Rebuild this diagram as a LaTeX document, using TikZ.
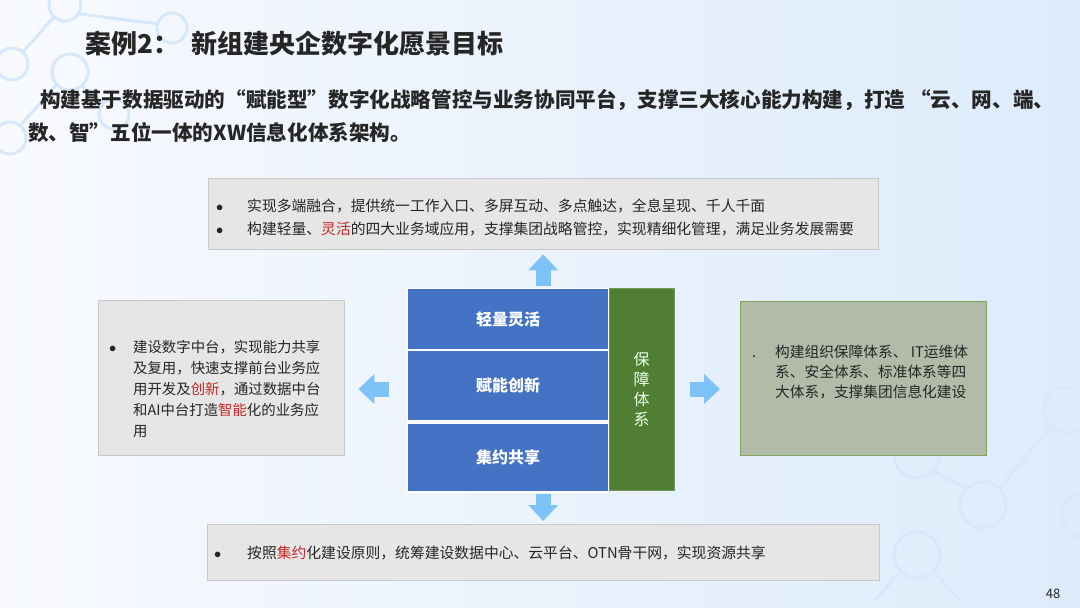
\documentclass[tikz,border=0pt]{standalone}
\usepackage{fontspec}
\setmainfont{Noto Sans CJK SC}
\usetikzlibrary{arrows.meta,positioning}

\definecolor{bgleft}{RGB}{248,250,254}
\definecolor{bgright}{RGB}{221,235,251}
\definecolor{deco}{RGB}{216,232,251}
\definecolor{boxgray}{RGB}{230,230,230}
\definecolor{boxline}{RGB}{200,200,200}
\definecolor{blockblue}{RGB}{68,114,196}
\definecolor{guardgreen}{RGB}{80,126,50}
\definecolor{sagefill}{RGB}{177,187,167}
\definecolor{sageline}{RGB}{125,165,94}
\definecolor{arrowblue}{RGB}{126,195,247}
\definecolor{hotred}{RGB}{200,40,40}
\definecolor{ink}{RGB}{38,38,38}

\newcommand{\hot}[1]{\textcolor{hotred}{#1}}
\newcommand{\dotmark}{$\bullet$}

\begin{document}
\begin{tikzpicture}[x=1pt,y=-1pt,
  graybox/.style={draw=boxline,fill=boxgray,inner sep=0pt,anchor=north west},
  sagebox/.style={draw=sageline,fill=sagefill,inner sep=0pt,anchor=north west},
  blk/.style={draw=white,line width=1.2pt,fill=blockblue,text=white,
              font=\fontsize{16}{18}\selectfont\bfseries,minimum width=201pt,
              inner sep=0pt},
  boxtxt/.style={inner sep=0pt,anchor=west,align=left,text=ink},
  fatarr/.style={draw=arrowblue,line width=15pt,
                 -{Triangle[length=16pt,width=29pt]}}]
  % page and background marks
  \shade[left color=bgleft,right color=bgright] (0,0) rectangle (1080,608);
  \useasboundingbox (0,0) rectangle (1080,608);
  \begin{scope}[draw=deco,line width=3pt]
    \draw (65,5) circle (16) (12,64) circle (16) (70,72) circle (18)
          (172,28) circle (15) (10,138) circle (16) (114,114) circle (15);
    \draw (54,17) -- (23,52) (80,14) -- (158,24) (82,86) -- (103,103)
          (57,84) -- (20,126);
    \draw (1067,410) circle (23) (917,455) circle (23) (983,505) circle (23)
          (917,555) circle (23) (1085,515) circle (23);
    \draw (933,471) -- (967,489) (999,489) -- (1051,426) (933,571) -- (960,600)
          (901,571) -- (875,600);
  \end{scope}

  % heading
  \node[anchor=west,inner sep=0pt,font=\fontsize{26}{30}\selectfont\bfseries,text=ink]
    (title) at (85,44) {案例2：\hspace{12pt}新组建央企数字化愿景目标};
  \node[anchor=west,inner sep=0pt,font=\fontsize{20.6}{24}\selectfont\bfseries,text=ink]
    (sub1) at (40,100) {构建基于数据驱动的“赋能型”数字化战略管控与业务协同平台，支撑三大核心能力构建，打造 “云、网、端、};
  \node[anchor=west,inner sep=0pt,font=\fontsize{20.6}{24}\selectfont\bfseries,text=ink]
    (sub2) at (28,133) {数、智”五位一体的XW信息化体系架构。};

  % outer boxes
  \node[graybox,minimum width=670pt,minimum height=71pt] (top) at (208,178) {};
  \node[graybox,minimum width=246pt,minimum height=155pt] (lbox) at (98,300) {};
  \node[sagebox,minimum width=246pt,minimum height=154pt] (rbox) at (740,301) {};
  \node[graybox,minimum width=672pt,minimum height=56pt] (bot) at (207,524) {};

  \node[boxtxt,font=\fontsize{14.8}{23}\selectfont] (toptxt) at (216,217)
    {\makebox[31pt][l]{\dotmark}实现多端融合，提供统一工作入口、多屏互动、多点触达，全息呈现、千人千面\\
     \makebox[31pt][l]{\dotmark}构建轻量、\hot{灵活}的四大业务域应用，支撑集团战略管控，实现精细化管理，满足业务发展需要};
  \node[boxtxt,font=\fontsize{14.4}{21}\selectfont] (ltxt) at (109,389)
    {\makebox[24pt][l]{\dotmark}建设数字中台，实现能力共享\\
     \makebox[24pt]{}及复用，快速支撑前台业务应\\
     \makebox[24pt]{}用开发及\hot{创新}，通过数据中台\\
     \makebox[24pt]{}和AI中台打造\hot{智能}化的业务应\\
     \makebox[24pt]{}用};
  \node[boxtxt,font=\fontsize{14.7}{20}\selectfont] (rtxt) at (752,372)
    {\makebox[23pt][l]{.}构建组织保障体系、 IT运维体\\
     \makebox[23pt]{}系、安全体系、标准体系等四\\
     \makebox[23pt]{}大体系，支撑集团信息化建设};
  \node[boxtxt,font=\fontsize{14.8}{18}\selectfont] (bottxt) at (214,553)
    {\makebox[33pt][l]{\dotmark}按照\hot{集约}化建设原则，统筹建设数据中心、云平台、OTN骨干网，实现资源共享};

  % core blocks
  \node[blk,anchor=north west,minimum height=61pt] (b1) at (407,288) {轻量灵活};
  \node[blk,below=0pt of b1,minimum height=70pt] (b2) {赋能创新};
  \node[blk,below=1pt of b2,minimum height=69pt] (b3) {集约共享};
  \node[fill=guardgreen,draw=guardgreen!80!white,anchor=north west,inner sep=0pt,
        minimum width=65pt,minimum height=202pt,align=center,text=green!8!white,
        font=\fontsize{16}{20}\selectfont] (guard) at (609,288) {保\\障\\体\\系};
  \coordinate (mid) at (540.5,389);

  % fat arrows
  \draw[fatarr,shorten <=2pt,shorten >=5pt] (top.south |- b1.north) -- (top.south);
  \draw[fatarr,shorten <=1pt,shorten >=3pt] (bot.north |- b3.south) -- (bot.north);
  \draw[fatarr,shorten <=18pt,shorten >=14pt] (mid -| b2.west) -- (mid -| lbox.east);
  \draw[fatarr,shorten <=16pt,shorten >=20pt] (mid -| guard.east) -- (mid -| rbox.west);

  \node[inner sep=0pt,font=\fontsize{13}{14}\selectfont,text=ink] (pageno) at (1053,594) {48};
\end{tikzpicture}
\end{document}
